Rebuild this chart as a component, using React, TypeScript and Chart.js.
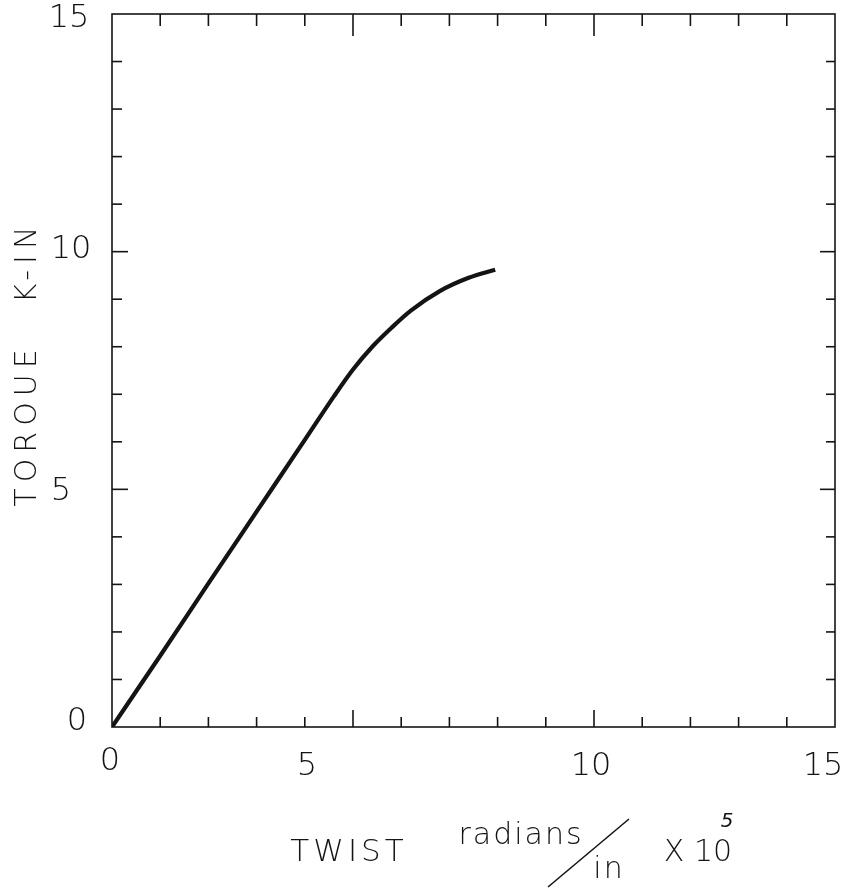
import { useEffect, useRef } from "react";
import { Chart, registerables } from "chart.js";

Chart.register(...registerables);

// ---- data ----
const twist = [0, 1, 2, 3, 4, 4.6, 5.0, 5.4, 5.8, 6.2, 6.8, 7.4, 7.95];
const torque = [0, 1.5, 3.02, 4.53, 6.04, 6.95, 7.52, 8.0, 8.4, 8.76, 9.17, 9.45, 9.62];

const xTickValues = [0, 5, 10, 15];
const xTickLabels = ["0", "5", "10", "15"];
const yTickValues = [0, 5, 10, 15];
const yTickLabels = ["0", "5", "10", "15"];

const yTitleWords = ["TOROUE", "K-IN"];
const xTitleWord = "TWIST";
const xUnitTop = "radians";
const xUnitBottom = "in";
const xMultiplier = "X 10";
const xExponent = "5";

// ---- layout / style (kept apart from the data) ----
const W = 847;
const H = 892;
const FONT = '"DejaVu Sans", "Liberation Sans", sans-serif';
const INK = "#141414";
// label nudges [dx, dy] in px, relative to the tick position
const xLabelNudge = [
  [-2, 35],
  [-46, 40],
  [-3, 40],
  [-12, 40],
];
const yLabelNudge = [
  [-35, -5],
  [-51, 2],
  [-41, -2],
  [-43, 5],
];

const framePlugin = {
  id: "drawnFrame",
  afterDraw(chart: any) {
    const { ctx, chartArea: a, scales } = chart;
    const xs = scales.x;
    const ys = scales.y;
    ctx.save();
    ctx.strokeStyle = INK;
    ctx.fillStyle = INK;
    ctx.lineWidth = 1.6;
    ctx.lineCap = "butt";
    ctx.strokeRect(a.left, a.top, a.right - a.left, a.bottom - a.top);

    const seg = (x1: number, y1: number, x2: number, y2: number) => {
      ctx.beginPath();
      ctx.moveTo(x1, y1);
      ctx.lineTo(x2, y2);
      ctx.stroke();
    };
    for (let v = 1; v < 15; v++) {
      const major = v % 5 === 0;
      const px = xs.getPixelForValue(v);
      seg(px, a.bottom, px, a.bottom - (major ? 17 : 10));
      seg(px, a.top, px, a.top + (major ? 22 : 12));
      const py = ys.getPixelForValue(v);
      seg(a.left, py, a.left + (major ? 16 : 10), py);
      seg(a.right, py, a.right - (major ? 15 : 9), py);
    }

    // tick labels
    ctx.font = `200 32px ${FONT}`;
    ctx.textAlign = "center";
    ctx.textBaseline = "middle";
    xTickValues.forEach((v, i) => {
      const [dx, dy] = xLabelNudge[i];
      ctx.fillText(xTickLabels[i], xs.getPixelForValue(v) + dx, a.bottom + dy);
    });
    yTickValues.forEach((v, i) => {
      const [dx, dy] = yLabelNudge[i];
      ctx.fillText(yTickLabels[i], a.left + dx, ys.getPixelForValue(v) + dy);
    });

    // y title (rotated)
    ctx.font = `200 30px ${FONT}`;
    (ctx as any).letterSpacing = "6px";
    const yCenters = [428, 265];
    yTitleWords.forEach((word, i) => {
      ctx.save();
      ctx.translate(28, yCenters[i]);
      ctx.rotate(-Math.PI / 2);
      ctx.fillText(word, 3, 0);
      ctx.restore();
    });

    // x title
    (ctx as any).letterSpacing = "4px";
    ctx.font = `200 31px ${FONT}`;
    ctx.fillText(xTitleWord, 349, 853);
    (ctx as any).letterSpacing = "2px";
    ctx.font = `200 30px ${FONT}`;
    ctx.fillText(xUnitTop, 521, 836);
    ctx.fillText(xUnitBottom, 609, 870);
    ctx.lineWidth = 1.6;
    seg(548, 887, 629, 819);
    (ctx as any).letterSpacing = "0px";
    ctx.fillText(xMultiplier, 698, 853);
    ctx.font = `italic 200 20px ${FONT}`;
    ctx.fillText(xExponent, 727, 822);
    ctx.restore();
  },
};

export default function App() {
  const ref = useRef<HTMLCanvasElement | null>(null);
  useEffect(() => {
    if (!ref.current) return;
    const chart = new Chart(ref.current, {
      type: "line",
      data: {
        datasets: [
          {
            data: twist.map((x, i) => ({ x, y: torque[i] })),
            borderColor: INK,
            borderWidth: 4.2,
            pointRadius: 0,
            cubicInterpolationMode: "monotone",
            fill: false,
          },
        ],
      },
      options: {
        animation: false,
        responsive: false,
        maintainAspectRatio: false,
        layout: { padding: { left: 112, right: 12, top: 14, bottom: 165 } },
        scales: {
          x: { type: "linear", min: 0, max: 15, display: false },
          y: { type: "linear", min: 0, max: 15, display: false },
        },
        plugins: {
          legend: { display: false },
          tooltip: { enabled: false },
        },
      },
      plugins: [framePlugin],
    });
    return () => chart.destroy();
  }, []);
  return (
    <div style={{ position: "fixed", left: 0, top: 0, width: W, height: H, background: "#fff" }}>
      <canvas ref={ref} width={W} height={H} style={{ width: W, height: H, display: "block" }} />
    </div>
  );
}
